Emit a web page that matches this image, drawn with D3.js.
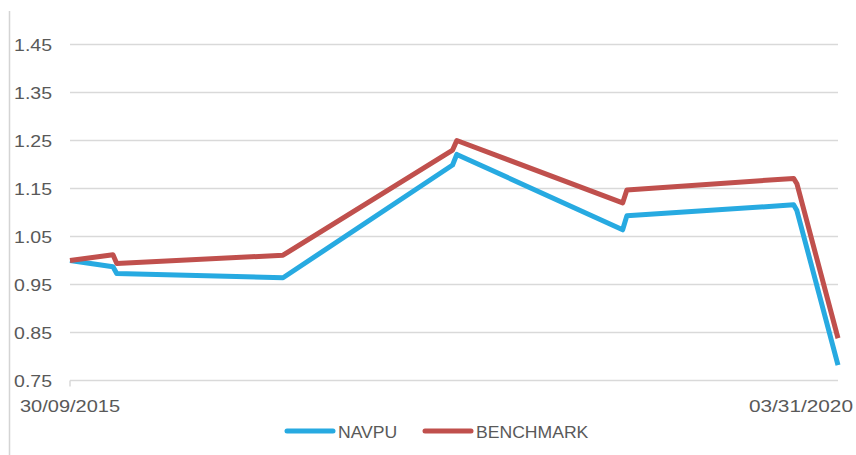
<!DOCTYPE html>
<html>
<head>
<meta charset="utf-8">
<script src="https://cdn.jsdelivr.net/npm/d3@7"></script>
<style>
  body { margin: 0; background: #fff; }
  text { font-family: "Liberation Sans", Arial, sans-serif; fill: #595959; }
</style>
</head>
<body>
<svg id="chart" width="856" height="455"></svg>
<script>

var dates = ["2015-09-30", "2015-12-31", "2016-01-08", "2016-12-29", "2017-12-27", "2018-01-05",
             "2018-12-26", "2019-01-04", "2019-12-27", "2020-01-03", "2020-03-31"]

var navpu = [1.000, 0.987, 0.973, 0.964, 1.199, 1.221, 1.064, 1.093, 1.116, 1.104, 0.782]

var benchmark = [1.000, 1.012, 0.994, 1.011, 1.230, 1.250, 1.120, 1.147, 1.171, 1.160, 0.838]

var yTicks = [0.75, 0.85, 0.95, 1.05, 1.15, 1.25, 1.35, 1.45]

var xLabels = ["30/09/2015", "03/31/2020"]

var seriesNames = ["NAVPU", "BENCHMARK"]
var seriesColors = ["#27AAE1", "#C0504D"]

var parse = d3.timeParse("%Y-%m-%d")
var dd = dates.map(parse)

var svg = d3.select('#chart')

var x = d3.scaleTime()
            .domain(d3.extent(dd))
            .range([70, 838])

var y = d3.scaleLinear()
            .domain([0.75, 1.45])
            .range([380.5, 44.5])

// outer frame line on the left
svg.append("line")
        .attr("x1", 9.5).attr("x2", 9.5)
        .attr("y1", 11).attr("y2", 455)
        .attr("stroke", "#d4d4d4")
        .attr("stroke-width", 1.5)

// gridlines
svg.append("g")
        .selectAll("line")
        .data(yTicks)
        .enter().append("line")
        .attr("x1", 70).attr("x2", 838)
        .attr("y1", function(d){ return y(d) }).attr("y2", function(d){ return y(d) })
        .attr("stroke", "#d9d9d9")
        .attr("stroke-width", 1.5)

// small tick at the start of the axis
svg.append("line")
        .attr("x1", 70).attr("x2", 70)
        .attr("y1", y(0.75)).attr("y2", y(0.75) + 6)
        .attr("stroke", "#d9d9d9")
        .attr("stroke-width", 1.5)

// y labels
svg.append("g")
        .selectAll("text")
        .data(yTicks)
        .enter().append("text")
        .attr("transform", function(d){ return "translate(52," + (y(d) + 6) + ") scale(1.22,1)" })
        .attr("text-anchor", "end")
        .attr("font-size", "16px")
        .text(function(d){ return d3.format(".2f")(d) })

// x labels
svg.append("text")
        .attr("transform", "translate(" + x(dd[0]) + ",412) scale(1.25,1)")
        .attr("text-anchor", "middle")
        .attr("font-size", "16px")
        .text(xLabels[0])

svg.append("text")
        .attr("transform", "translate(853,412) scale(1.3,1)")
        .attr("text-anchor", "end")
        .attr("font-size", "16px")
        .text(xLabels[1])

// lines
var line = d3.line()
            .x(function(d, i){ return x(dd[i]) })
            .y(function(d){ return y(d) })

var series = [navpu, benchmark]

svg.append("g")
        .selectAll("path")
        .data(series)
        .enter().append("path")
        .attr("d", line)
        .attr("fill", "none")
        .attr("stroke", function(d, i){ return seriesColors[i] })
        .attr("stroke-width", 5)
        .attr("stroke-linejoin", "round")

// legend
var legend = svg.append("g")

var legendX = [285, 423]

seriesNames.forEach(function(name, i) {
    legend.append("line")
            .attr("x1", legendX[i] + 2).attr("x2", legendX[i] + 48)
            .attr("y1", 431).attr("y2", 431)
            .attr("stroke", seriesColors[i])
            .attr("stroke-width", 5)
            .attr("stroke-linecap", "round")

    legend.append("text")
            .attr("transform", "translate(" + (legendX[i] + 53) + ",438) scale(1.1,1)")
            .attr("font-size", "16px")
            .text(name)
})

</script>
</body>
</html>
